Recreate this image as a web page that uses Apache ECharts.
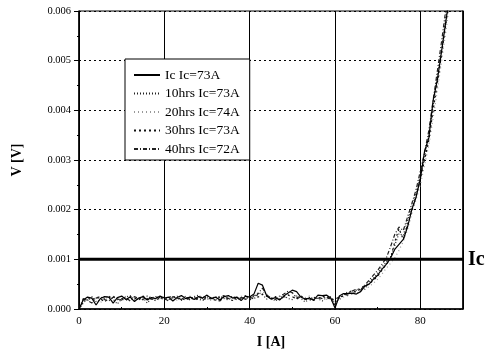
<!DOCTYPE html>
<html>
<head>
<meta charset="utf-8">
<script src="https://cdn.jsdelivr.net/npm/echarts@6/dist/echarts.min.js"></script>
<style>
  html, body { margin: 0; padding: 0; background: #fff; }
  #main { width: 490px; height: 359px; }
</style>
</head>
<body>
<div id="main"></div>
<script>
// current I [A], one reading per ampere
const current = [
  0, 1, 2, 3, 4, 5, 6, 7, 8, 9, 10, 11, 12, 13, 14, 15, 16, 17, 18, 19,
  20, 21, 22, 23, 24, 25, 26, 27, 28, 29, 30, 31, 32, 33, 34, 35, 36, 37, 38, 39,
  40, 41, 42, 43, 44, 45, 46, 47, 48, 49, 50, 51, 52, 53, 54, 55, 56, 57, 58, 59,
  60, 61, 62, 63, 64, 65, 66, 67, 68, 69, 70, 71, 72, 73, 74, 75, 76, 77, 78, 79,
  80, 81, 82, 83, 84, 85, 86, 87
]

// voltage V [V]
const vIc = [
  0, 0.00018, 0.00024, 0.00022, 0.00008, 0.00021, 0.00025, 0.00024, 0.00012, 0.00023,
  0.00026, 0.00019, 0.00024, 0.00015, 0.00022, 0.00025, 0.00018, 0.00023, 0.00021, 0.00026,
  0.00022, 0.00024, 0.00016, 0.00023, 0.00027, 0.00021, 0.00024, 0.00019, 0.00025, 0.00022,
  0.00028, 0.00021, 0.00024, 0.00018, 0.00025, 0.00027, 0.00022, 0.00024, 0.00017, 0.00026,
  0.00024, 0.00030, 0.00052, 0.00048, 0.00026, 0.00020, 0.00023, 0.00018, 0.00026, 0.00032,
  0.00038, 0.00035, 0.00024, 0.00020, 0.00022, 0.00018, 0.00028, 0.00027, 0.00028, 0.00022,
  0.00002, 0.00026, 0.00031, 0.00031, 0.00032, 0.00030, 0.00035, 0.00046, 0.00050, 0.00060,
  0.00068, 0.00080, 0.00090, 0.00102, 0.00120, 0.00130, 0.00140, 0.00165, 0.00200, 0.00225,
  0.00262, 0.00318, 0.00345, 0.00420, 0.00462, 0.00520, 0.00580, 0.00640
]
const v10hrs = [
  0, 0.00012, 0.00020, 0.00025, 0.00015, 0.00018, 0.00022, 0.00026, 0.00020, 0.00010,
  0.00021, 0.00024, 0.00027, 0.00018, 0.00020, 0.00023, 0.00012, 0.00022, 0.00025, 0.00020,
  0.00024, 0.00019, 0.00022, 0.00026, 0.00017, 0.00023, 0.00020, 0.00025, 0.00028, 0.00021,
  0.00019, 0.00024, 0.00022, 0.00026, 0.00021, 0.00018, 0.00025, 0.00022, 0.00020, 0.00027,
  0.00021, 0.00025, 0.00033, 0.00029, 0.00020, 0.00024, 0.00016, 0.00022, 0.00027, 0.00021,
  0.00019, 0.00026, 0.00022, 0.00014, 0.00020, 0.00024, 0.00021, 0.00016, 0.00023, 0.00025,
  0.00012, 0.00020, 0.00028, 0.00035, 0.00030, 0.00038, 0.00042, 0.00040, 0.00055, 0.00062,
  0.00072, 0.00085, 0.00094, 0.00105, 0.00128, 0.00152, 0.00148, 0.00178, 0.00205, 0.00232,
  0.00270, 0.00305, 0.00352, 0.00410, 0.00470, 0.00525, 0.00590, 0.00650
]
const v20hrs = [
  0, 0.00020, 0.00016, 0.00023, 0.00019, 0.00012, 0.00024, 0.00020, 0.00017, 0.00022,
  0.00015, 0.00026, 0.00021, 0.00019, 0.00024, 0.00018, 0.00022, 0.00027, 0.00016, 0.00021,
  0.00019, 0.00025, 0.00021, 0.00018, 0.00024, 0.00020, 0.00026, 0.00017, 0.00022, 0.00025,
  0.00023, 0.00017, 0.00026, 0.00020, 0.00023, 0.00025, 0.00019, 0.00021, 0.00026, 0.00018,
  0.00026, 0.00022, 0.00028, 0.00035, 0.00030, 0.00018, 0.00022, 0.00026, 0.00020, 0.00029,
  0.00031, 0.00024, 0.00018, 0.00023, 0.00026, 0.00020, 0.00022, 0.00025, 0.00019, 0.00024,
  0.00016, 0.00018, 0.00024, 0.00027, 0.00034, 0.00031, 0.00036, 0.00040, 0.00045, 0.00052,
  0.00060, 0.00070, 0.00082, 0.00092, 0.00103, 0.00118, 0.00136, 0.00160, 0.00192, 0.00220,
  0.00250, 0.00290, 0.00330, 0.00385, 0.00440, 0.00500, 0.00560, 0.00625
]
const v30hrs = [
  0, 0.00015, 0.00022, 0.00018, 0.00024, 0.00021, 0.00014, 0.00023, 0.00026, 0.00019,
  0.00022, 0.00017, 0.00025, 0.00022, 0.00018, 0.00026, 0.00021, 0.00019, 0.00023, 0.00025,
  0.00018, 0.00023, 0.00026, 0.00020, 0.00022, 0.00017, 0.00024, 0.00021, 0.00019, 0.00026,
  0.00022, 0.00020, 0.00018, 0.00024, 0.00027, 0.00020, 0.00017, 0.00024, 0.00022, 0.00020,
  0.00018, 0.00027, 0.00024, 0.00030, 0.00026, 0.00021, 0.00025, 0.00019, 0.00024, 0.00028,
  0.00025, 0.00020, 0.00026, 0.00021, 0.00017, 0.00023, 0.00020, 0.00026, 0.00024, 0.00018,
  0.00020, 0.00024, 0.00026, 0.00033, 0.00037, 0.00034, 0.00041, 0.00048, 0.00050, 0.00058,
  0.00066, 0.00078, 0.00090, 0.00100, 0.00135, 0.00162, 0.00140, 0.00170, 0.00198, 0.00228,
  0.00262, 0.00300, 0.00340, 0.00400, 0.00455, 0.00515, 0.00575, 0.00640
]
const v40hrs = [
  0, 0.00021, 0.00017, 0.00012, 0.00022, 0.00025, 0.00019, 0.00016, 0.00024, 0.00021,
  0.00018, 0.00023, 0.00016, 0.00025, 0.00021, 0.00019, 0.00026, 0.00020, 0.00017, 0.00024,
  0.00021, 0.00016, 0.00025, 0.00022, 0.00019, 0.00026, 0.00018, 0.00023, 0.00020, 0.00017,
  0.00025, 0.00022, 0.00019, 0.00016, 0.00024, 0.00021, 0.00026, 0.00018, 0.00023, 0.00021,
  0.00024, 0.00020, 0.00031, 0.00042, 0.00028, 0.00022, 0.00019, 0.00025, 0.00030, 0.00036,
  0.00033, 0.00022, 0.00026, 0.00019, 0.00023, 0.00017, 0.00024, 0.00021, 0.00025, 0.00020,
  0.00008, 0.00024, 0.00030, 0.00028, 0.00036, 0.00040, 0.00038, 0.00048, 0.00058, 0.00068,
  0.00078, 0.00090, 0.00102, 0.00125, 0.00150, 0.00165, 0.00158, 0.00185, 0.00212, 0.00240,
  0.00278, 0.00315, 0.00360, 0.00420, 0.00480, 0.00540, 0.00605, 0.00660
]

const seriesNames = ['Ic Ic=73A', '10hrs Ic=73A', '20hrs Ic=74A', '30hrs Ic=73A', '40hrs Ic=72A']
const icCriterion = 0.001
const xRange = [0, 90]

const serif = '"Liberation Serif", "DejaVu Serif", serif'

const chart = echarts.init(document.getElementById('main'))

const pairs = (vals) => current.map((x, i) => [x, vals[i]])

const mkLine = (name, vals, color, type, extra) => Object.assign({
  name: name,
  type: 'line',
  data: pairs(vals),
  symbol: 'none',
  smooth: false,
  animation: false,
  lineStyle: { color: color, width: 1.2, type: type },
  itemStyle: { color: color }
}, extra || {})

chart.setOption({
  backgroundColor: '#fff',
  animation: false,
  textStyle: { fontFamily: serif, color: '#000' },
  grid: {
    left: 79, right: 27, top: 11, bottom: 50,
    show: true, borderColor: '#000', borderWidth: 1, backgroundColor: 'transparent'
  },
  legend: {
    orient: 'vertical',
    left: 125,
    top: 59,
    padding: [9, 10, 4, 8],
    itemWidth: 26,
    itemHeight: 10,
    itemGap: 4.5,
    backgroundColor: '#fff',
    borderColor: '#000',
    borderWidth: 1,
    borderRadius: 0,
    itemStyle: { opacity: 0 },
    textStyle: { fontFamily: serif, fontSize: 13.5, color: '#000' },
    data: seriesNames
  },
  xAxis: {
    type: 'value',
    min: xRange[0],
    max: xRange[1],
    interval: 20,
    name: 'I [A]',
    nameLocation: 'middle',
    nameGap: 26,
    nameTextStyle: { fontFamily: serif, fontSize: 14, fontWeight: 'bold', color: '#000' },
    axisLine: { show: true, lineStyle: { color: '#000', width: 1.5 } },
    axisTick: { show: true, inside: true, length: 4, lineStyle: { color: '#000' } },
    minorTick: { show: true, splitNumber: 2, length: 2, lineStyle: { color: '#000' } },
    axisLabel: { fontFamily: serif, fontSize: 11, color: '#000', margin: 7, showMaxLabel: false },
    splitLine: { show: true, lineStyle: { color: '#000', width: 1, type: 'solid' } }
  },
  yAxis: [
    {
      type: 'value',
      min: 0,
      max: 0.006,
      interval: 0.001,
      name: 'V [V]',
      nameLocation: 'middle',
      nameGap: 55,
      nameRotate: 90,
      nameTextStyle: { fontFamily: serif, fontSize: 14, fontWeight: 'bold', color: '#000' },
      axisLine: { show: true, lineStyle: { color: '#000', width: 1.5 } },
      axisTick: { show: true, inside: false, length: 5, lineStyle: { color: '#000' } },
      minorTick: { show: true, splitNumber: 2, length: 2, lineStyle: { color: '#000' } },
      axisLabel: {
        fontFamily: serif, fontSize: 10.5, color: '#000', margin: 8,
        formatter: (v) => v.toFixed(3)
      },
      splitLine: { show: true, lineStyle: { color: '#000', width: 1, type: [2, 3] } }
    },
    {
      // right-hand axis used only to place the "Ic" criterion label
      type: 'value',
      position: 'right',
      min: 0,
      max: 0.006,
      interval: 0.001,
      axisLine: { show: true, lineStyle: { color: '#000', width: 1.5 } },
      axisTick: { show: false },
      splitLine: { show: false },
      axisLabel: {
        margin: 5,
        fontFamily: serif, fontSize: 20, fontWeight: 'bold', color: '#000',
        formatter: (v) => (Math.abs(v - icCriterion) < 1e-9 ? 'Ic' : '')
      }
    }
  ],
  series: [
    {
      // Ic criterion (1 mV)
      name: 'criterion',
      type: 'line',
      data: xRange.map((x) => [x, icCriterion]),
      symbol: 'none',
      silent: true,
      animation: false,
      z: 4,
      lineStyle: { color: '#000', width: 3, type: 'solid' }
    },
    mkLine(seriesNames[0], vIc, '#000', 'solid', { z: 5 }),
    mkLine(seriesNames[1], v10hrs, '#222', [1, 2]),
    mkLine(seriesNames[2], v20hrs, '#999', [1, 3]),
    mkLine(seriesNames[3], v30hrs, '#111', [2, 3]),
    mkLine(seriesNames[4], v40hrs, '#222', [4, 2, 1, 2])
  ]
})
</script>
</body>
</html>
